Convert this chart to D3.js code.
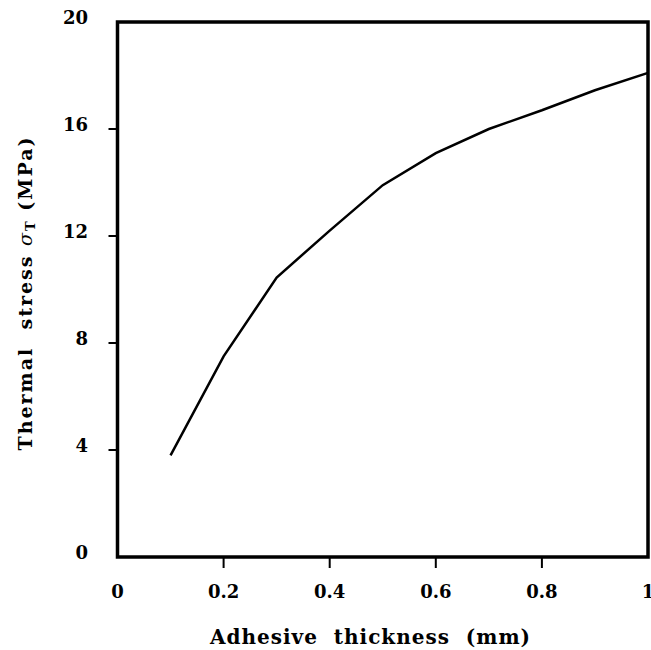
<!DOCTYPE html>
<html>
<head>
<meta charset="utf-8">
<script src="https://cdn.jsdelivr.net/npm/d3@7"></script>
<style>
  body { margin: 0; background: #fff; }
  svg text { font-family: "DejaVu Serif", serif; font-weight: bold; fill: #000; }
</style>
</head>
<body>
<div id="chart"></div>
<script>
// thickness (mm) and the stress (MPa)
var thickness = [0.1, 0.2, 0.3, 0.4, 0.5, 0.6, 0.7, 0.8, 0.9, 1.0]
var stress = [3.8, 7.5, 10.45, 12.2, 13.9, 15.1, 16.0, 16.7, 17.45, 18.1]
var xTicks = [0.2, 0.4, 0.6, 0.8]
var xLabels = [0, 0.2, 0.4, 0.6, 0.8, 1]
var yTicks = [4, 8, 12, 16]
var yLabels = [0, 4, 8, 12, 16, 20]

var width = 651, height = 650
var m = {left: 117.5, right: 3, top: 22, bottom: 93}

var svg = d3.select("#chart").append("svg")
    .attr("width", width)
    .attr("height", height)

var x = d3.scaleLinear().domain([0, 1]).range([m.left, width - m.right])
var y = d3.scaleLinear().domain([0, 20]).range([height - m.bottom, m.top])

// tick marks, outside the frame
svg.selectAll(".xtick").data(xTicks).enter().append("line")
    .attr("x1", d => x(d)).attr("x2", d => x(d))
    .attr("y1", y(0)).attr("y2", y(0) + 11)
    .attr("stroke", "#000").attr("stroke-width", 2)

svg.selectAll(".ytick").data(yTicks).enter().append("line")
    .attr("x1", x(0) - 9).attr("x2", x(0))
    .attr("y1", d => y(d)).attr("y2", d => y(d))
    .attr("stroke", "#000").attr("stroke-width", 2)

// tick labels
svg.selectAll(".xlab").data(xLabels).enter().append("text")
    .attr("x", d => x(d))
    .attr("y", y(0) + 41)
    .attr("text-anchor", "middle")
    .style("font-size", "18px")
    .text(d => d)

svg.selectAll(".ylab").data(yLabels).enter().append("text")
    .attr("x", 88)
    .attr("y", d => y(d) + 2)
    .attr("text-anchor", "end")
    .style("font-size", "18px")
    .text(d => d)

// frame
svg.append("rect")
    .attr("x", x(0)).attr("y", y(20))
    .attr("width", x(1) - x(0)).attr("height", y(0) - y(20))
    .attr("fill", "none").attr("stroke", "#000").attr("stroke-width", 3.5)

// the curve
var line = d3.line()
    .x((d, i) => x(thickness[i]))
    .y(d => y(d))

svg.append("path")
    .datum(stress)
    .attr("d", line)
    .attr("fill", "none")
    .attr("stroke", "#000")
    .attr("stroke-width", 2.5)

// axis titles
svg.append("text")
    .attr("x", 370)
    .attr("y", 644)
    .attr("text-anchor", "middle")
    .attr("textLength", 320)
    .attr("lengthAdjust", "spacing")
    .style("font-size", "20px")
    .style("white-space", "pre")
    .text("Adhesive  thickness  (mm)")

var yt = svg.append("text")
    .attr("transform", "translate(32,294) rotate(-90)")
    .attr("text-anchor", "middle")
    .attr("textLength", 313)
    .attr("lengthAdjust", "spacing")
    .style("font-size", "19px")
    .style("white-space", "pre")
yt.append("tspan").text("Thermal  stress ")
yt.append("tspan").style("font-style", "italic").style("font-weight", "normal").text("σ")
yt.append("tspan").style("font-size", "13px").attr("dy", 3).text("T")
yt.append("tspan").attr("dy", -3).text(" (MPa)")
</script>
</body>
</html>
